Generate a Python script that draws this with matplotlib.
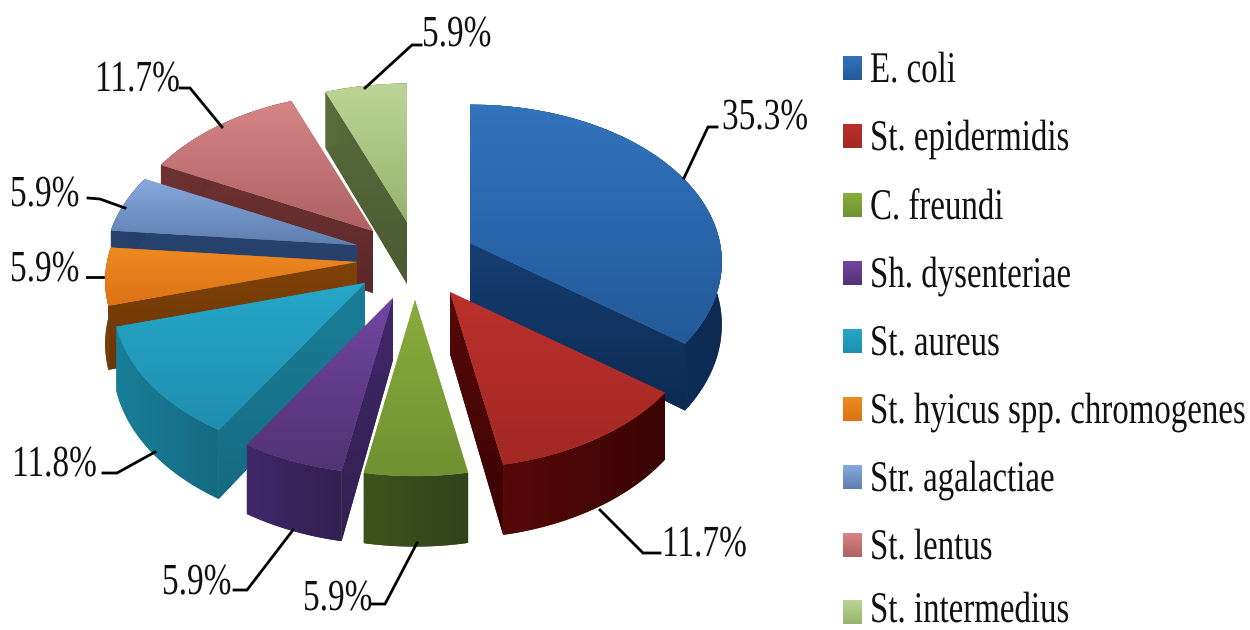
import numpy as np
import matplotlib
matplotlib.use("Agg")
import matplotlib.pyplot as plt
from matplotlib.patches import Polygon
from matplotlib.patheffects import AbstractPathEffect
from matplotlib.transforms import Affine2D

categories = ["E. coli", "St. epidermidis", "C. freundi", "Sh. dysenteriae", "St. aureus",
              "St. hyicus spp. chromogenes", "Str. agalactiae", "St. lentus", "St. intermedius"]
values = [35.3, 11.7, 5.9, 5.9, 11.8, 5.9, 5.9, 11.7, 5.9]
value_labels = ["35.3%", "11.7%", "5.9%", "5.9%", "11.8%", "5.9%", "5.9%", "11.7%", "5.9%"]

# explosion of each slice (pixels), akin to the "explode" option of a pie
explode_x = [60, 40, 5, -17, -45, -53, -53, -37, -3]
explode_y = [-12, 37, 45, 43, 28, 7, -10, -24, -33]
top_light = ["#3273bd", "#bb302c", "#89ad3c", "#7245a0", "#27a6c8", "#ee8a22", "#86a8dc", "#d68585", "#bcd596"]
top_dark = ["#235a9a", "#a32824", "#6f9232", "#523374", "#1f8fae", "#dd7212", "#5f7fb0", "#ae6262", "#97b46e"]
side_light = ["#163f72", "#560a08", "#3f521b", "#40286a", "#1a7e98", "#7f4208", "#27436e", "#6e3232", "#5a6c3c"]
side_dark = ["#0c2a52", "#3a0402", "#32431a", "#33204f", "#156a82", "#6c3606", "#233e68", "#5c2828", "#4a5a32"]
draw_order = [8, 0, 7, 6, 5, 4, 1, 3, 2]

CX, CY, RX, RY, K, DEPTH = 410, 255, 250, 155, 0.12, 62

# label text anchor (left x, baseline y) and leader polylines
label_pos = [(722, 129), (662, 556), (303, 610), (162, 594), (12, 476), (10, 281), (10, 206), (95, 91), (422, 46)]
leaders = [[(717, 127), (708, 127), (684, 178)],
           [(600, 510), (643, 553), (660, 553)],
           [(417, 543), (385, 604), (372, 604)],
           [(293, 530), (247, 590), (234, 590)],
           [(155, 452), (117, 473), (103, 473)],
           [(103, 277), (87, 277)],
           [(125, 208), (100, 199), (88, 198)],
           [(222, 127), (190, 88), (180, 88)],
           [(365, 88), (412, 45), (421, 45)]]
legend_y = [68, 136, 205, 273, 341, 409, 477, 545, 612]


class StretchY(AbstractPathEffect):
    """Draw text taller about its baseline, as in the squeezed original."""
    def __init__(self, factor):
        super().__init__()
        self.factor = factor

    def draw_path(self, renderer, gc, tpath, affine, rgbFace=None):
        base = affine.get_matrix()[1, 2]
        t = affine + Affine2D().translate(0, -base).scale(1, self.factor).translate(0, base)
        renderer.draw_path(gc, tpath, t, rgbFace)


plt.rcParams["font.family"] = ["Liberation Serif", "DejaVu Serif"]
fig = plt.figure(figsize=(12.5, 6.3), dpi=100)
ax = fig.add_axes([0, 0, 1, 1])
ax.set_xlim(0, 1250)
ax.set_ylim(630, 0)
ax.axis("off")
tall = [StretchY(1.33)]


def rgb(c):
    return np.array(matplotlib.colors.to_rgb(c))


def fill_gradient(pts, c0, c1, horizontal=False, z=1):
    pts = np.asarray(pts)
    f = np.linspace(0, 1, 32)[:, None]
    col = rgb(c0) * (1 - f) + rgb(c1) * f
    img = col[None, :, :] if horizontal else col[:, None, :]
    x0, x1, y0, y1 = pts[:, 0].min(), pts[:, 0].max(), pts[:, 1].min(), pts[:, 1].max()
    poly = Polygon(pts, closed=True, facecolor=(rgb(c0) + rgb(c1)) / 2, edgecolor="none", zorder=z)
    ax.add_patch(poly)
    im = ax.imshow(img, extent=(x0, x1, y1, y0), aspect="auto", interpolation="bilinear", zorder=z)
    im.set_clip_path(poly)


def project(t, ax0, ay0):
    u, v = np.sin(t), -np.cos(t)
    w = 1 / (1 - K * v)
    return np.column_stack([ax0 + RX * u * w, ay0 + RY * v * w]), w


def face_visible(a, p, m):
    """A radial face shows when the top of the slice lies above its edge."""
    if abs(p[0] - a[0]) < 1:
        return False
    return m[1] < a[1] + (p[1] - a[1]) * (m[0] - a[0]) / (p[0] - a[0])


fractions = np.array(values) / np.sum(values)
edges = np.concatenate([[0], np.cumsum(fractions)]) * 2 * np.pi

z = 1
for i in draw_order:
    ax0, ay0 = CX + explode_x[i], CY + explode_y[i]
    t = np.linspace(edges[i], edges[i + 1], 60)
    rim, w = project(t, ax0, ay0)
    apex = np.array([[ax0, ay0]])
    d = DEPTH * w[:, None] * np.array([[0, 1]])
    apex_low = apex + [0, DEPTH]
    mid = rim[30]
    for k in (0, -1):
        if face_visible(apex[0], rim[k], mid):
            fill_gradient(np.vstack([apex, rim[[k]], rim[[k]] + d[[k]], apex_low]),
                          side_light[i], side_dark[i], z=z)
    fill_gradient(np.vstack([rim, (rim + d)[::-1]]), side_light[i], side_dark[i], horizontal=True, z=z + 0.2)
    fill_gradient(np.vstack([apex, rim]), top_light[i], top_dark[i], z=z + 0.5)
    z += 1

for i, lab in enumerate(value_labels):
    ax.text(label_pos[i][0], label_pos[i][1], lab, fontsize=24, color="#111111", ha="left", va="baseline",
            zorder=50, path_effects=tall)
    xs, ys = zip(*leaders[i])
    ax.plot(xs, ys, color="black", lw=2, zorder=40, solid_joinstyle="miter")

for i, name in enumerate(categories):
    y = legend_y[i]
    key = [(843, y - 12), (862, y - 12), (862, y + 12), (843, y + 12)]
    fill_gradient(key, top_light[i], top_dark[i], z=50)
    ax.text(870, min(y + 14, 622), name, fontsize=23.7, color="#111111", ha="left", va="baseline",
            zorder=50, path_effects=tall)

ax.set_xlim(0, 1250)
ax.set_ylim(630, 0)
fig.savefig("out.png", dpi=100, facecolor="white")
